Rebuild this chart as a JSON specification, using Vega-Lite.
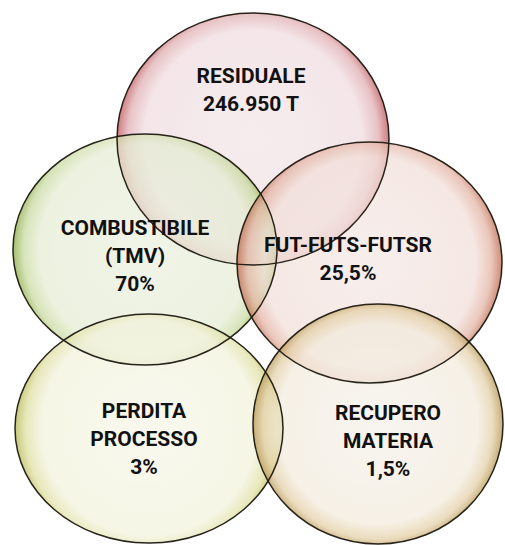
{
  "$schema": "https://vega.github.io/schema/vega-lite/v6.json",
  "width": 505,
  "height": 545,
  "autosize": {"type": "none"},
  "padding": 0,
  "background": "white",
  "config": {"view": {"stroke": null}},
  "data": {
    "values": [
      {"name": "RESIDUALE", "label": "RESIDUALE\n246.950 T", "cx": 253, "cy": 139, "tx": 251, "ty": 77},
      {"name": "COMBUSTIBILE", "label": "COMBUSTIBILE\n(TMV)\n70%", "cx": 145, "cy": 249.5, "tx": 135, "ty": 229},
      {"name": "FUT", "label": "FUT-FUTS-FUTSR\n25,5%", "cx": 369.5, "cy": 262.5, "tx": 348, "ty": 246},
      {"name": "PERDITA", "label": "PERDITA\nPROCESSO\n3%", "cx": 149, "cy": 428.5, "tx": 144, "ty": 412},
      {"name": "RECUPERO", "label": "RECUPERO\nMATERIA\n1,5%", "cx": 378, "cy": 424, "tx": 388, "ty": 414}
    ]
  },
  "encoding": {
    "x": {"field": "cx", "type": "quantitative", "scale": {"domain": [0, 505], "nice": false, "zero": false}, "axis": null},
    "y": {"field": "cy", "type": "quantitative", "scale": {"domain": [0, 545], "nice": false, "zero": false, "reverse": true}, "axis": null}
  },
  "layer": [
    {
      "transform": [{"filter": "datum.name === 'RESIDUALE'"}],
      "mark": {
        "type": "point", "filled": true, "size": 4, "opacity": 1, "fillOpacity": 0.7, "strokeWidth": 0,
        "shape": "M-136,0A136,126,0,1,0,136,0A136,126,0,1,0,-136,0Z",
        "fill": {"gradient": "radial", "x1": 0.5, "y1": 0.5, "r1": 0, "x2": 0.5, "y2": 0.5, "r2": 0.5,
          "stops": [
            {"offset": 0, "color": "#f2e4e7"},
            {"offset": 0.8, "color": "#efdbde"},
            {"offset": 0.92, "color": "#dea9ae"},
            {"offset": 1, "color": "#b8454a"}
          ]}
      }
    },
    {
      "transform": [{"filter": "datum.name === 'COMBUSTIBILE'"}],
      "mark": {
        "type": "point", "filled": true, "size": 4, "opacity": 1, "fillOpacity": 0.7, "strokeWidth": 0,
        "shape": "M-132,0A132,115.5,0,1,0,132,0A132,115.5,0,1,0,-132,0Z",
        "fill": {"gradient": "radial", "x1": 0.5, "y1": 0.5, "r1": 0, "x2": 0.5, "y2": 0.5, "r2": 0.5,
          "stops": [
            {"offset": 0, "color": "#eaefde"},
            {"offset": 0.8, "color": "#e4ecd2"},
            {"offset": 0.92, "color": "#c6d89b"},
            {"offset": 1, "color": "#7ea230"}
          ]}
      }
    },
    {
      "transform": [{"filter": "datum.name === 'FUT'"}],
      "mark": {
        "type": "point", "filled": true, "size": 4, "opacity": 1, "fillOpacity": 0.7, "strokeWidth": 0,
        "shape": "M-132.5,0A132.5,120.5,0,1,0,132.5,0A132.5,120.5,0,1,0,-132.5,0Z",
        "fill": {"gradient": "radial", "x1": 0.5, "y1": 0.5, "r1": 0, "x2": 0.5, "y2": 0.5, "r2": 0.5,
          "stops": [
            {"offset": 0, "color": "#f3e7e4"},
            {"offset": 0.8, "color": "#f1ded8"},
            {"offset": 0.92, "color": "#e2b09f"},
            {"offset": 1, "color": "#b85b3e"}
          ]}
      }
    },
    {
      "transform": [{"filter": "datum.name === 'PERDITA'"}],
      "mark": {
        "type": "point", "filled": true, "size": 4, "opacity": 1, "fillOpacity": 0.7, "strokeWidth": 0,
        "shape": "M-134,0A134,114.5,0,1,0,134,0A134,114.5,0,1,0,-134,0Z",
        "fill": {"gradient": "radial", "x1": 0.5, "y1": 0.5, "r1": 0, "x2": 0.5, "y2": 0.5, "r2": 0.5,
          "stops": [
            {"offset": 0, "color": "#f5f5e7"},
            {"offset": 0.8, "color": "#f2f2db"},
            {"offset": 0.92, "color": "#dede9f"},
            {"offset": 1, "color": "#b0b03e"}
          ]}
      }
    },
    {
      "transform": [{"filter": "datum.name === 'RECUPERO'"}],
      "mark": {
        "type": "point", "filled": true, "size": 4, "opacity": 1, "fillOpacity": 0.7, "strokeWidth": 0,
        "shape": "M-125,0A125,120,0,1,0,125,0A125,120,0,1,0,-125,0Z",
        "fill": {"gradient": "radial", "x1": 0.5, "y1": 0.5, "r1": 0, "x2": 0.5, "y2": 0.5, "r2": 0.5,
          "stops": [
            {"offset": 0, "color": "#f5f1ea"},
            {"offset": 0.8, "color": "#f2eadb"},
            {"offset": 0.92, "color": "#e2cda2"},
            {"offset": 1, "color": "#b08d45"}
          ]}
      }
    },
    {
      "mark": {
        "type": "point", "filled": false, "size": 4, "opacity": 1,
        "stroke": "#1c1810", "strokeWidth": 1.5, "strokeOpacity": 0.95
      },
      "encoding": {
        "shape": {
          "field": "name", "type": "nominal", "legend": null,
          "scale": {
            "domain": ["RESIDUALE", "COMBUSTIBILE", "FUT", "PERDITA", "RECUPERO"],
            "range": [
              "M-136,0A136,126,0,1,0,136,0A136,126,0,1,0,-136,0Z",
              "M-132,0A132,115.5,0,1,0,132,0A132,115.5,0,1,0,-132,0Z",
              "M-132.5,0A132.5,120.5,0,1,0,132.5,0A132.5,120.5,0,1,0,-132.5,0Z",
              "M-134,0A134,114.5,0,1,0,134,0A134,114.5,0,1,0,-134,0Z",
              "M-125,0A125,120,0,1,0,125,0A125,120,0,1,0,-125,0Z"
            ]
          }
        }
      }
    },
    {
      "mark": {
        "type": "text", "lineBreak": "\n", "lineHeight": 28, "align": "center", "baseline": "middle",
        "font": "Roboto, sans-serif", "fontWeight": "bold", "fontSize": 21, "color": "#111111"
      },
      "encoding": {
        "x": {"field": "tx", "type": "quantitative", "scale": {"domain": [0, 505], "nice": false, "zero": false}, "axis": null},
        "y": {"field": "ty", "type": "quantitative", "scale": {"domain": [0, 545], "nice": false, "zero": false, "reverse": true}, "axis": null},
        "text": {"field": "label"}
      }
    }
  ]
}
